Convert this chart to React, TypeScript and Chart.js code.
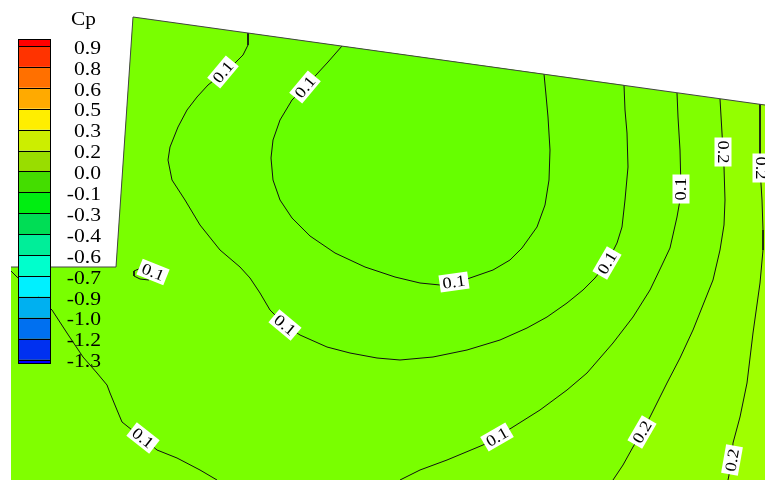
import React, { useEffect, useRef } from 'react';
import { Chart, registerables } from 'chart.js';

Chart.register(...registerables);

type P = [number, number];

// ---- Domain geometry (data coordinates) ----
const domainFill: P[] = [[133, 17], [765, 105], [765, 480], [11, 480], [11, 267], [116, 267], [133, 17]];
const domainOutline: P[] = [[11, 267], [116, 267], [133, 17], [765, 105]];

// ---- Contour lines ----
const line1: P[] = [[342, 46], [328, 62], [316, 75], [305, 87], [292, 100], [280, 120], [273, 140], [271, 158], [273, 180], [280, 200], [292, 218], [310, 236], [335, 253], [365, 267], [395, 277], [420, 283], [440, 285], [455, 283], [470, 278], [493, 270], [510, 260], [522, 248], [537, 227], [545, 205], [549, 180], [550, 150], [548, 117], [546, 95], [544, 74]];
const line2: P[] = [[248, 33], [248, 45], [243, 55], [233, 65], [223, 73], [208, 85], [197, 97], [187, 110], [178, 127], [170, 147], [168, 160], [172, 180], [185, 200], [200, 225], [220, 250], [240, 267], [250, 278], [260, 293], [270, 310], [285, 325], [300, 335], [327, 347], [350, 353], [377, 358], [400, 360], [433, 357], [467, 350], [500, 340], [527, 328], [547, 317], [567, 303], [583, 290], [595, 278], [607, 263], [617, 243], [622, 227], [625, 200], [628, 167], [627, 133], [625, 110], [624, 85]];
const line3: P[] = [[11, 271], [17, 277], [35, 293], [52, 310], [67, 333], [83, 357], [97, 373], [107, 385], [110, 393], [117, 410], [122, 422], [132, 430], [143, 438], [157, 450], [177, 458], [200, 470], [217, 480]];
const line4: P[] = [[400, 480], [420, 470], [447, 460], [483, 445], [497, 437], [513, 427], [540, 410], [567, 390], [587, 373], [613, 343], [633, 317], [650, 290], [662, 265], [670, 248], [677, 217], [680, 200], [681, 189], [680, 150], [678, 117], [677, 93]];
const line5: P[] = [[720, 99], [722, 133], [723, 152], [724, 167], [725, 200], [724, 225], [720, 250], [713, 280], [705, 300], [693, 330], [680, 358], [667, 383], [650, 417], [642, 432], [633, 447], [623, 465], [613, 480]];
const line6: P[] = [[760, 104], [760, 140], [760, 168], [762, 200], [763, 230], [763, 250], [760, 283], [753, 333], [747, 383], [740, 417], [733, 443], [732, 460], [728, 480]];
const hook: P[] = [[141, 268], [134, 271], [134, 276], [140, 279], [149, 280]];

// ---- Band colours ----
const colorLow = '#80FF00';
const colorMid = '#79FF00';
const colorInner = '#6FFF00';
const colorCore = '#66FF00';
const colorHigh = '#93FF00';
const colorTop = '#9FFF00';

// ---- Contour labels ----
const contourLabels = [
  { x: 223, y: 72, angle: -50, text: '0.1' },
  { x: 305, y: 87, angle: -50, text: '0.1' },
  { x: 153, y: 272, angle: 22, text: '0.1' },
  { x: 285, y: 325, angle: 40, text: '0.1' },
  { x: 454, y: 282, angle: -8, text: '0.1' },
  { x: 607, y: 263, angle: -60, text: '0.1' },
  { x: 681, y: 189, angle: -90, text: '0.1' },
  { x: 497, y: 437, angle: -30, text: '0.1' },
  { x: 143, y: 438, angle: 38, text: '0.1' },
  { x: 723, y: 152, angle: 90, text: '0.2' },
  { x: 642, y: 432, angle: -60, text: '0.2' },
  { x: 761, y: 168, angle: 90, text: '0.2' },
  { x: 732, y: 460, angle: -80, text: '0.2' },
];

// ---- Legend ----
const legendTitle = 'Cp';
const legendLevels = ['0.9', '0.8', '0.6', '0.5', '0.3', '0.2', '0.0', '-0.1', '-0.3', '-0.4', '-0.6', '-0.7', '-0.9', '-1.0', '-1.2', '-1.3'];
const legendColors = ['#FF0000', '#FF3300', '#FF7000', '#FFAA00', '#FFEE00', '#CCEE00', '#99DD00', '#44DD00', '#00EE11', '#00DD55', '#00EE99', '#00FFCC', '#00F0FF', '#00B0F0', '#0070F0', '#0030F0', '#0000FF'];

const toXY = (pts: P[]) => pts.map(([x, y]) => ({ x, y }));

function fillSet(pts: P[], color: string, order: number) {
  return {
    data: toXY(pts),
    fill: 'shape',
    backgroundColor: color,
    borderColor: 'rgba(0,0,0,0)',
    borderWidth: 1,
    pointRadius: 0,
    tension: 0,
    order,
  };
}

function lineSet(pts: P[], color: string, order: number) {
  return {
    data: toXY(pts),
    fill: false,
    borderColor: color,
    borderWidth: 1,
    pointRadius: 0,
    tension: 0,
    order,
  };
}

const rev = (pts: P[]) => pts.slice().reverse();

const regionMid: P[] = [
  [116, 267], [133, 17],
  ...rev(line4),
  ...rev(line3),
  [11, 267], [116, 267],
];
const regionInner: P[] = [...line2, line2[0]];
const regionCore: P[] = [...line1, line1[0]];
const regionHigh: P[] = [...line5, [765, 480], [765, 105], line5[0]];
const regionTop: P[] = [...line6, [765, 480], [765, 105], line6[0]];

const SERIF = '"Liberation Serif", "Times New Roman", "DejaVu Serif", serif';

const labelPlugin = {
  id: 'contourLabels',
  afterDatasetsDraw(chart: any) {
    const { ctx } = chart;
    const xs = chart.scales.x;
    const ys = chart.scales.y;
    ctx.save();
    ctx.font = `16px ${SERIF}`;
    contourLabels.forEach((l) => {
      const px = xs.getPixelForValue(l.x);
      const py = ys.getPixelForValue(l.y);
      ctx.save();
      ctx.translate(px, py);
      ctx.rotate((l.angle * Math.PI) / 180);
      const sx = 1.15;
      const w = ctx.measureText(l.text).width * sx;
      ctx.fillStyle = '#FFFFFF';
      ctx.fillRect(-w / 2 - 3, -8.5, w + 6, 17);
      ctx.scale(sx, 1);
      ctx.fillStyle = '#000000';
      ctx.textAlign = 'center';
      ctx.textBaseline = 'middle';
      ctx.fillText(l.text, 0, 1);
      ctx.restore();
    });
    ctx.restore();
  },
};

const legendPlugin = {
  id: 'colorLegend',
  afterDraw(chart: any) {
    const { ctx } = chart;
    const left = 18;
    const right = 50;
    const top = 39;
    const bottom = 363;
    const first = 46;
    const step = 20.9;
    const n = legendLevels.length;
    ctx.save();
    // bands
    for (let i = 0; i <= n; i++) {
      const y0 = i === 0 ? top : first + step * (i - 1);
      const y1 = i === n ? bottom : first + step * i;
      ctx.fillStyle = legendColors[i];
      ctx.fillRect(left, y0, right - left, y1 - y0);
    }
    // level lines
    ctx.strokeStyle = '#000000';
    ctx.lineWidth = 1;
    for (let i = 0; i < n; i++) {
      const y = Math.round(first + step * i) + 0.5;
      ctx.beginPath();
      ctx.moveTo(left, y);
      ctx.lineTo(right, y);
      ctx.stroke();
    }
    ctx.strokeRect(left + 0.5, top + 0.5, right - left, bottom - top);
    // labels
    ctx.fillStyle = '#000000';
    ctx.font = `18px ${SERIF}`;
    ctx.textAlign = 'right';
    ctx.textBaseline = 'middle';
    const sx = 1.2;
    for (let i = 0; i < n; i++) {
      const y = first + step * i + 3;
      ctx.save();
      ctx.scale(sx, 1);
      ctx.fillText(legendLevels[i], 101 / sx, y);
      ctx.restore();
    }
    // title
    ctx.font = `19px ${SERIF}`;
    ctx.textAlign = 'left';
    ctx.save();
    ctx.scale(1.12, 1);
    ctx.fillText(legendTitle, 71 / 1.12, 20);
    ctx.restore();
    ctx.restore();
  },
};

export default function App() {
  const ref = useRef<HTMLCanvasElement>(null);
  useEffect(() => {
    if (!ref.current) return;
    const chart = new Chart(ref.current, {
      type: 'line',
      data: {
        datasets: [
          fillSet(domainFill, colorLow, 100),
          fillSet(regionMid, colorMid, 90),
          fillSet(regionInner, colorInner, 80),
          fillSet(regionCore, colorCore, 70),
          fillSet(regionHigh, colorHigh, 60),
          fillSet(regionTop, colorTop, 50),
          lineSet(line1, '#111111', 10),
          lineSet(line2, '#111111', 10),
          lineSet(line3, '#111111', 10),
          lineSet(line4, '#111111', 10),
          lineSet(line5, '#111111', 10),
          lineSet(line6, '#111111', 10),
          lineSet(hook, '#111111', 10),
          lineSet(domainOutline, '#444444', 5),
        ] as any,
      },
      options: {
        animation: false,
        responsive: false,
        maintainAspectRatio: false,
        events: [],
        layout: { padding: 0 },
        scales: {
          x: { type: 'linear', min: 0, max: 765, display: false },
          y: { type: 'linear', min: 0, max: 480, reverse: true, display: false },
        },
        plugins: {
          legend: { display: false },
          tooltip: { enabled: false },
        },
      } as any,
      plugins: [labelPlugin, legendPlugin],
    });
    return () => chart.destroy();
  }, []);
  return (
    <div style={{ position: 'fixed', left: 0, top: 0, width: 765, height: 480, background: '#fff' }}>
      <canvas ref={ref} width={765} height={480} style={{ display: 'block' }} />
    </div>
  );
}
